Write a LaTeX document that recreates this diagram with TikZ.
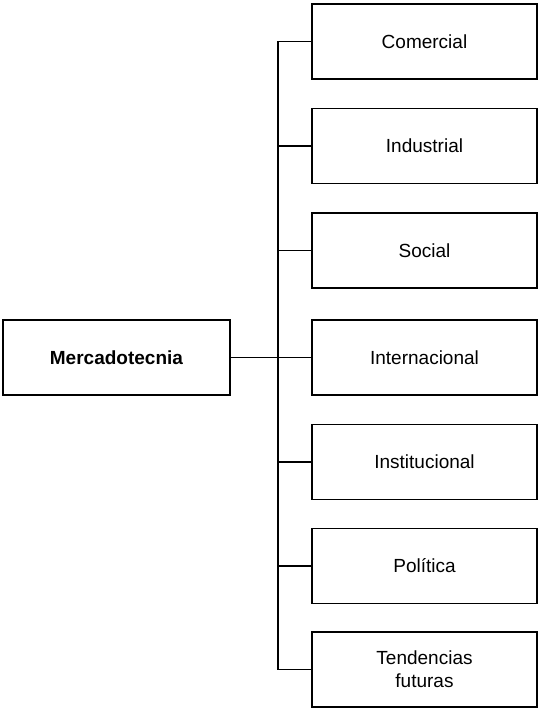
\documentclass[tikz,border=0pt]{standalone}
\usepackage{fontspec}
\setmainfont{Liberation Sans}
\usetikzlibrary{positioning}

\begin{document}
\begin{tikzpicture}[
  x=1pt, y=-1pt,
  font=\fontsize{19}{23}\selectfont,
  box/.style={draw, line width=1.6pt, align=center, minimum width=225pt, minimum height=75pt, inner sep=2pt},
  link/.style={line width=1.6pt}
]
\useasboundingbox (0,0) rectangle (539,708);

% --- Root -------------------------------------------------------------------
\node[box, minimum width=227pt] (merc) at (116.5,357.5) {\textbf{Mercadotecnia}};

% --- Branches ---------------------------------------------------------------
\node[box] (com) at (424.5,41.5)  {Comercial};
\node[box] (ind) at (424.5,146)   {Industrial};
\node[box] (soc) at (424.5,250.5) {Social};
\node[box] (int) at (424.5,357.5) {Internacional};
\node[box] (ins) at (424.5,462)   {Institucional};
\node[box] (pol) at (424.5,566)   {Política};
\node[box] (ten) at (424.5,669.5) {Tendencias\\futuras};

% --- Spine ------------------------------------------------------------------
\coordinate (spine) at (278,0);
\draw[link] (com.west) -| (spine |- ten.west) -- (ten.west);
\foreach \n in {ind, soc, ins, pol}
  \draw[link] (\n.west) -- (spine |- \n.west);
\draw[link] (merc.east) -- (int.west);

\end{tikzpicture}
\end{document}
